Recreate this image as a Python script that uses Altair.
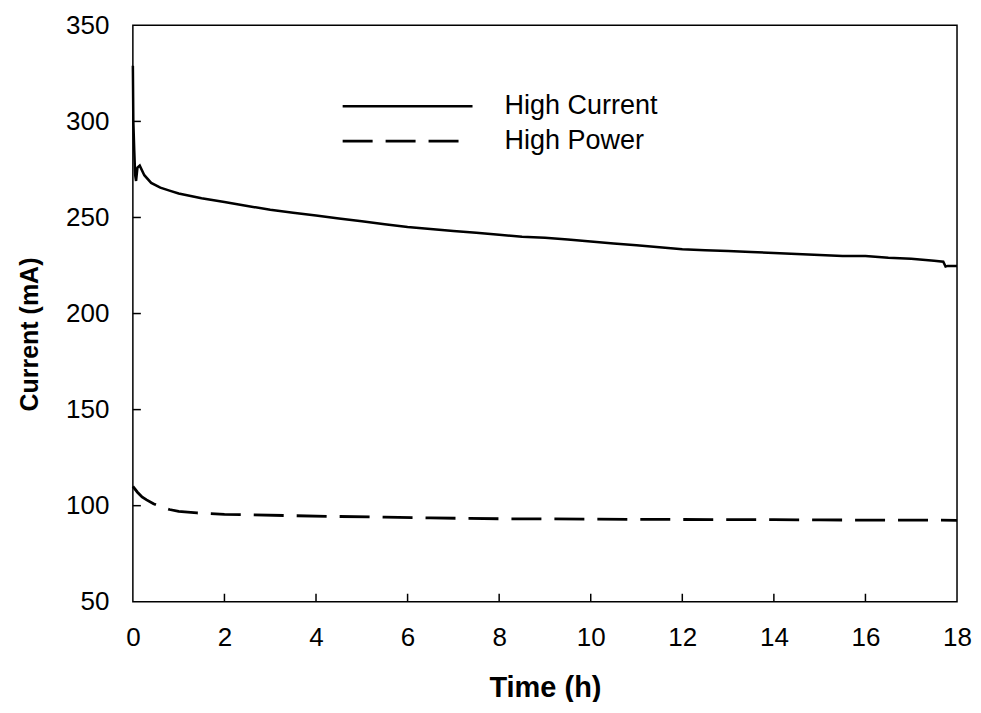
import altair as alt
import pandas as pd

# High Current series (time in h, current in mA)
hc_time = [0, 0.01, 0.03, 0.05, 0.07, 0.1, 0.15, 0.25, 0.4, 0.6, 0.8, 1.0, 1.5,
           2, 2.5, 3, 3.5, 4, 4.5, 5, 5.5, 6, 6.5, 7, 7.5, 8, 8.5, 9, 9.5,
           10, 10.5, 11, 11.5, 12, 12.5, 13, 13.5, 14, 14.5, 15, 15.5, 16,
           16.5, 17, 17.5, 17.7, 17.75, 17.8, 18]
hc_curr = [329, 300, 285, 272, 269, 276, 277, 272, 268, 265.5, 264, 262.5, 260,
           258, 256, 254, 252.5, 251, 249.5, 248, 246.5, 245, 244, 243, 242, 241,
           240, 239.5, 238.5, 237.5, 236.5, 235.5, 234.5, 233.5, 233, 232.5, 232,
           231.5, 231, 230.5, 230, 230, 229, 228.5, 227.5, 227, 224.5, 224.8, 224.8]

# High Power series
hp_time = [0, 0.1, 0.2, 0.3, 0.45, 0.6, 0.8, 1.0, 1.4, 2, 2.6, 3.5, 4.4, 5.5,
           6.5, 8, 9, 10, 11, 12, 13, 14, 15, 16, 17, 18]
hp_curr = [110, 107, 104.5, 103, 101, 99.5, 98, 97, 96.2, 95.5, 95.2, 94.8,
           94.4, 94, 93.6, 93.2, 93.1, 93, 92.9, 92.8, 92.7, 92.7, 92.6, 92.5,
           92.5, 92.4]

x_ticks = [0, 2, 4, 6, 8, 10, 12, 14, 16, 18]
y_ticks = [50, 100, 150, 200, 250, 300, 350]
x_inner_ticks = [2, 4, 6, 8, 10, 12, 14, 16]
y_inner_ticks = [100, 150, 200, 250, 300]
legend_labels = ["High Current", "High Power"]

FONT = "Liberation Sans"

df_hc = pd.DataFrame({"t": hc_time, "c": hc_curr})
df_hp = pd.DataFrame({"t": hp_time, "c": hp_curr})

xscale = alt.Scale(domain=[0, 18], nice=False, zero=False)
yscale = alt.Scale(domain=[50, 350], nice=False, zero=False)

xaxis = alt.Axis(values=x_ticks, title="Time (h)", ticks=False, domain=False,
                 grid=False, labelFont=FONT, labelFontSize=26, labelColor="black",
                 labelPadding=23, titleFont=FONT, titleFontSize=29,
                 titleFontWeight="bold", titleColor="black", titlePadding=23,
                 labelFlush=False)
yaxis = alt.Axis(values=y_ticks, title="Current (mA)", ticks=False, domain=False,
                 grid=False, labelFont=FONT, labelFontSize=26, labelColor="black",
                 labelPadding=24, titleFont=FONT, titleFontSize=25,
                 titleFontWeight="bold", titleColor="black", titlePadding=23,
                 titleY=309, labelFlush=False)

X = alt.X("t:Q", scale=xscale, axis=xaxis, title="Time (h)")
Y = alt.Y("c:Q", scale=yscale, axis=yaxis, title="Current (mA)")

line_hc = alt.Chart(df_hc).mark_line(color="black", strokeWidth=2.5).encode(x=X, y=Y)
line_hp = alt.Chart(df_hp).mark_line(color="black", strokeWidth=2.8,
                                     strokeDash=[30, 13]).encode(x=X, y=Y)

xt = alt.Chart(pd.DataFrame({"t": x_inner_ticks})).mark_rule(
    color="black", strokeWidth=1.5).encode(
    x=X, y=alt.value(577), y2=alt.value(569),
)
yt = alt.Chart(pd.DataFrame({"c": y_inner_ticks})).mark_rule(
    color="black", strokeWidth=1.5).encode(
    y=Y, x=alt.value(0), x2=alt.value(8),
)

leg_solid = alt.Chart(pd.DataFrame({"k": [legend_labels[0]]})).mark_rule(
    color="black", strokeWidth=2.5).encode(
    x=alt.value(210), x2=alt.value(340), y=alt.value(81))
leg_dash = alt.Chart(pd.DataFrame({"k": [legend_labels[1]]})).mark_rule(
    color="black", strokeWidth=2.8, strokeDash=[30, 13]).encode(
    x=alt.value(210), x2=alt.value(327), y=alt.value(116))
leg_text1 = alt.Chart(pd.DataFrame({"k": [legend_labels[0]]})).mark_text(
    font=FONT, fontSize=27, align="left", baseline="middle", color="black").encode(
    x=alt.value(372), y=alt.value(81), text="k:N")
leg_text2 = alt.Chart(pd.DataFrame({"k": [legend_labels[1]]})).mark_text(
    font=FONT, fontSize=27, align="left", baseline="middle", color="black").encode(
    x=alt.value(372), y=alt.value(116), text="k:N")

chart = alt.layer(line_hc, line_hp, xt, yt, leg_solid, leg_dash,
                  leg_text1, leg_text2).properties(
    width=825, height=577,
    autosize=alt.AutoSizeParams(type="none"),
    padding={"left": 125, "top": 17, "right": 16, "bottom": 100},
).configure(background="white").configure_view(stroke="black", strokeWidth=1.5)

chart.save("out.html", embed_options={"renderer": "svg", "actions": False})
